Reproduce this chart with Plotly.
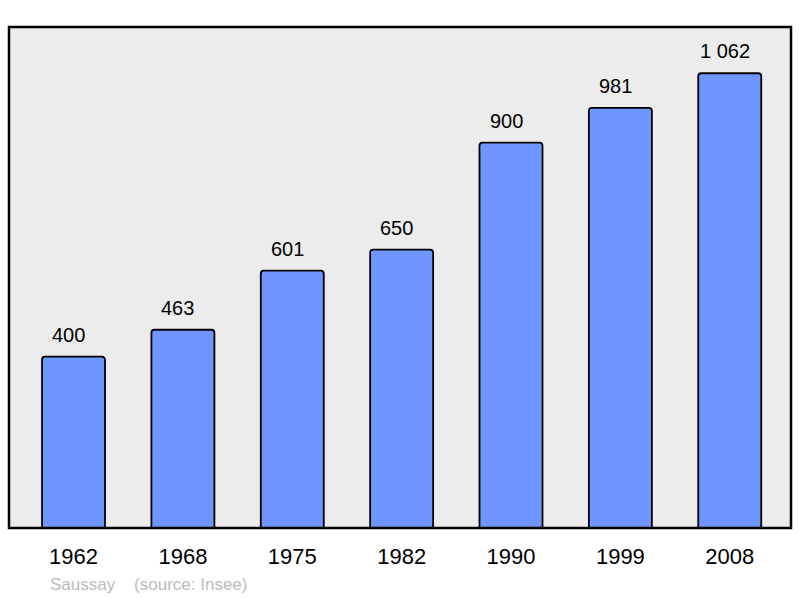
import plotly.graph_objects as go

years = ["1962", "1968", "1975", "1982", "1990", "1999", "2008"]
population = [400, 463, 601, 650, 900, 981, 1062]
value_labels = ["400", "463", "601", "650", "900", "981", "1 062"]
commune = "Saussay"
source = "(source: Insee)"

fig = go.Figure()
fig.add_trace(go.Bar(
    x=list(range(len(years))), y=population,
    width=0.576,
    marker=dict(color="#6f96ff", line=dict(color="#000000", width=1.8), cornerradius=3),
    hoverinfo="skip",
))

for i, (v, lab) in enumerate(zip(population, value_labels)):
    fig.add_annotation(x=i, y=v, text=lab, showarrow=False, yanchor="bottom",
                       yshift=9, xshift=-5,
                       font=dict(size=20, color="#000000", family="Liberation Sans"))

fig.add_annotation(xref="paper", yref="paper", x=(48-9)/782, y=-(584-528)/501,
                   xanchor="left", yanchor="middle", showarrow=False,
                   text=commune + "\u00a0\u00a0\u00a0\u00a0" + source,
                   font=dict(size=17, color="#bbbbbb", family="Liberation Sans"))

fig.add_shape(type="rect", xref="paper", yref="paper", x0=0, x1=1, y0=0, y1=1,
              line=dict(color="#000000", width=2.5), layer="above")

fig.update_layout(
    width=800, height=598,
    margin=dict(l=9, r=9, t=27, b=70, autoexpand=False),
    paper_bgcolor="#ffffff", plot_bgcolor="#ececec",
    showlegend=False,
    font=dict(family="Liberation Sans", color="#000000"),
    xaxis=dict(range=[-0.59, 6.56], tickmode="array", tickvals=list(range(len(years))),
               ticktext=years, showgrid=False, zeroline=False, ticks="",
               tickfont=dict(size=22), ticklabelstandoff=13),
    yaxis=dict(range=[0, 1170], showgrid=False, zeroline=False, showticklabels=False, ticks=""),
)

fig.write_html("out.html", config={"displayModeBar": False},
               post_script="document.body.style.margin='0';document.body.style.overflow='hidden';")
